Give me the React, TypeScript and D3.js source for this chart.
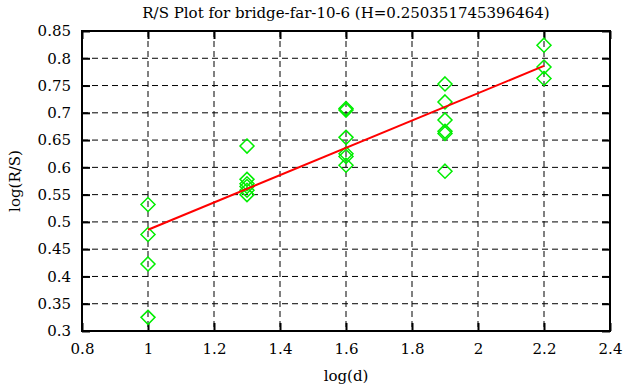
import React, { useEffect, useRef } from "react";
import * as d3 from "d3";

// log(d) positions and the log(R/S) values read at each one
const logD = [1, 1.3, 1.6, 1.9, 2.2];
const rsAt1 = [0.532, 0.477, 0.423, 0.325];
const rsAt13 = [0.639, 0.578, 0.57, 0.565, 0.558, 0.55];
const rsAt16 = [0.708, 0.705, 0.655, 0.625, 0.62, 0.604];
const rsAt19 = [0.753, 0.72, 0.687, 0.666, 0.662, 0.593];
const rsAt22 = [0.824, 0.784, 0.763];
const rsGroups = [rsAt1, rsAt13, rsAt16, rsAt19, rsAt22];

const hurst = 0.250351745396464;
const intercept = 0.2352;
const fitRange = [1, 2.2];

const xTicks = [0.8, 1, 1.2, 1.4, 1.6, 1.8, 2, 2.2, 2.4];
const yTicks = [0.3, 0.35, 0.4, 0.45, 0.5, 0.55, 0.6, 0.65, 0.7, 0.75, 0.8, 0.85];

const App: React.FC = () => {
  const svgRef = useRef<SVGSVGElement>(null);
  const width = 626;
  const height = 387;
  const margin = { top: 31, right: 16, bottom: 56, left: 82 };

  useEffect(() => {
    if (!svgRef.current) return;
    const svg = d3.select(svgRef.current);
    svg.selectAll("*").remove();

    const innerWidth = width - margin.left - margin.right;
    const innerHeight = height - margin.top - margin.bottom;
    const font = "'DejaVu Serif', serif";

    const xScale = d3.scaleLinear().domain([0.8, 2.4]).range([0, innerWidth]);
    const yScale = d3.scaleLinear().domain([0.3, 0.85]).range([innerHeight, 0]);

    const g = svg
      .append("g")
      .attr("transform", `translate(${margin.left},${margin.top})`);

    // dashed grid
    g.append("g")
      .selectAll("line")
      .data(xTicks.slice(1, -1))
      .enter()
      .append("line")
      .attr("x1", (d) => xScale(d))
      .attr("x2", (d) => xScale(d))
      .attr("y1", 0)
      .attr("y2", innerHeight)
      .attr("stroke", "#000")
      .attr("stroke-width", 1)
      .attr("stroke-dasharray", "6,4");

    g.append("g")
      .selectAll("line")
      .data(yTicks.slice(1, -1))
      .enter()
      .append("line")
      .attr("x1", 0)
      .attr("x2", innerWidth)
      .attr("y1", (d) => yScale(d))
      .attr("y2", (d) => yScale(d))
      .attr("stroke", "#000")
      .attr("stroke-width", 1)
      .attr("stroke-dasharray", "6,4");

    // axes with inward ticks on all four sides
    const styleAxis = (sel: d3.Selection<SVGGElement, unknown, null, undefined>) => {
      sel.attr("font-family", font).attr("font-size", 15);
      sel.select(".domain").remove();
      sel.selectAll("line").attr("stroke", "#000").attr("stroke-width", 2);
      sel.selectAll("text").attr("fill", "#000");
    };

    g.append("g")
      .attr("transform", `translate(0,${innerHeight})`)
      .call(
        d3
          .axisBottom(xScale)
          .tickValues(xTicks)
          .tickSize(-8)
          .tickPadding(12)
          .tickFormat((d) => String(d))
      )
      .call(styleAxis);

    g.append("g")
      .call(
        d3
          .axisTop(xScale)
          .tickValues(xTicks)
          .tickSize(-8)
          .tickFormat(() => "")
      )
      .call(styleAxis);

    g.append("g")
      .call(
        d3
          .axisLeft(yScale)
          .tickValues(yTicks)
          .tickSize(-8)
          .tickPadding(11)
          .tickFormat((d) => String(d))
      )
      .call(styleAxis);

    g.append("g")
      .attr("transform", `translate(${innerWidth},0)`)
      .call(
        d3
          .axisRight(yScale)
          .tickValues(yTicks)
          .tickSize(-8)
          .tickFormat(() => "")
      )
      .call(styleAxis);

    // frame
    g.append("rect")
      .attr("width", innerWidth)
      .attr("height", innerHeight)
      .attr("fill", "none")
      .attr("stroke", "#000")
      .attr("stroke-width", 2);

    // data points as diamonds
    const points = logD.flatMap((x, i) => rsGroups[i].map((y) => ({ x, y })));
    const diamond = (cx: number, cy: number, r: number) =>
      `M${cx},${cy - r}L${cx + r},${cy}L${cx},${cy + r}L${cx - r},${cy}Z`;

    g.append("g")
      .selectAll("path")
      .data(points)
      .enter()
      .append("path")
      .attr("d", (d) => diamond(xScale(d.x), yScale(d.y), 7))
      .attr("fill", "none")
      .attr("stroke", "#00ee00")
      .attr("stroke-width", 1.5);

    // fitted line
    const line = d3
      .line<number>()
      .x((d) => xScale(d))
      .y((d) => yScale(intercept + hurst * d));

    g.append("path")
      .attr("d", line(fitRange))
      .attr("fill", "none")
      .attr("stroke", "#ff0000")
      .attr("stroke-width", 2);

    // labels
    svg
      .append("text")
      .attr("x", margin.left + innerWidth / 2)
      .attr("y", 18)
      .attr("text-anchor", "middle")
      .attr("font-family", font)
      .attr("font-size", 15)
      .text(`R/S Plot for bridge-far-10-6 (H=${hurst})`);

    svg
      .append("text")
      .attr("x", margin.left + innerWidth / 2)
      .attr("y", 381)
      .attr("text-anchor", "middle")
      .attr("font-family", font)
      .attr("font-size", 15)
      .text("log(d)");

    svg
      .append("text")
      .attr("transform", `translate(20,${margin.top + innerHeight / 2}) rotate(-90)`)
      .attr("text-anchor", "middle")
      .attr("font-family", font)
      .attr("font-size", 15)
      .text("log(R/S)");
  }, []);

  return (
    <svg
      ref={svgRef}
      width={width}
      height={height}
      style={{ position: "absolute", left: 0, top: 0, background: "#fff" }}
    />
  );
};

export default App;
